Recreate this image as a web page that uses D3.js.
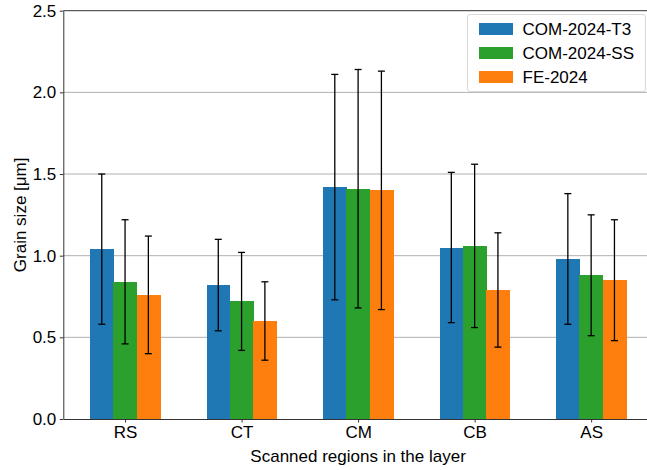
<!DOCTYPE html>
<html>
<head>
<meta charset="utf-8">
<script src="https://cdn.jsdelivr.net/npm/d3@7"></script>
<style>
  body { margin: 0; background: #fff; }
  text { font-family: "Liberation Sans", Arial, sans-serif; fill: #000; }
</style>
</head>
<body>
<div id="chart"></div>
<script>
// donnees
var regions = ["RS", "CT", "CM", "CB", "AS"];
var seriesNames = ["COM-2024-T3", "COM-2024-SS", "FE-2024"];
var seriesColors = ["#1f77b4", "#2ca02c", "#ff7f0e"];
var t3Values = [1.04, 0.82, 1.42, 1.05, 0.98];
var t3Errors = [0.46, 0.28, 0.69, 0.46, 0.40];
var ssValues = [0.84, 0.72, 1.41, 1.06, 0.88];
var ssErrors = [0.38, 0.30, 0.73, 0.50, 0.37];
var feValues = [0.76, 0.60, 1.40, 0.79, 0.85];
var feErrors = [0.36, 0.24, 0.73, 0.35, 0.37];
var yTicks = [0.0, 0.5, 1.0, 1.5, 2.0, 2.5];

var values = [t3Values, ssValues, feValues];
var errors = [t3Errors, ssErrors, feErrors];

var width = 647, height = 470;
var fontSize = "17px";
var barW = 0.2;

var svg = d3.select("#chart").append("svg")
  .attr("width", width)
  .attr("height", height);

// echelles (marge de 5% comme matplotlib)
var x = d3.scaleLinear().domain([-0.53, 4.53]).range([63.3, 652.9]);
var y = d3.scaleLinear().domain([0, 2.5]).range([419, 10.7]);

// grille horizontale
svg.append("g").selectAll("line").data(yTicks.slice(1, -1))
  .enter().append("line")
  .attr("x1", x(-0.53)).attr("x2", x(4.53))
  .attr("y1", function(d){ return y(d); })
  .attr("y2", function(d){ return y(d); })
  .attr("stroke", "#b0b0b0").attr("stroke-width", 1);

// barres
var data = [];
for (var s = 0; s < values.length; s++) {
  for (var i = 0; i < regions.length; i++) {
    data.push({ s: s, i: i, v: values[s][i], e: errors[s][i] });
  }
}

svg.append("g").attr("shape-rendering", "crispEdges").selectAll("rect").data(data)
  .enter().append("rect")
  .attr("x", function(d){ return x(d.i + (d.s - 1) * barW - barW / 2); })
  .attr("width", function(d){ return x(barW) - x(0) + 0.5; })
  .attr("y", function(d){ return y(d.v); })
  .attr("height", function(d){ return y(0) - y(d.v); })
  .attr("fill", function(d){ return seriesColors[d.s]; });

// barres d'erreur
var eb = svg.append("g").attr("stroke", "#000").attr("stroke-width", 1.3);
data.forEach(function(d){
  var cx = x(d.i + (d.s - 1) * barW);
  eb.append("line").attr("x1", cx).attr("x2", cx)
    .attr("y1", y(d.v - d.e)).attr("y2", y(d.v + d.e));
  [d.v - d.e, d.v + d.e].forEach(function(v){
    eb.append("line").attr("x1", cx - 3.5).attr("x2", cx + 3.5)
      .attr("y1", y(v)).attr("y2", y(v));
  });
});

// axes
var yAxis = svg.append("g")
  .attr("transform", "translate(" + x(-0.53) + ",0)")
  .call(d3.axisLeft(y).tickValues(yTicks).tickFormat(d3.format(".1f")).tickSizeInner(3.5).tickSizeOuter(0).tickPadding(3.5));
var xAxis = svg.append("g")
  .attr("transform", "translate(0," + y(0) + ")")
  .call(d3.axisBottom(x).tickValues(d3.range(regions.length)).tickFormat(function(d){ return regions[d]; }).tickSizeInner(3.5).tickSizeOuter(0).tickPadding(3.5));

[xAxis, yAxis].forEach(function(a){
  a.selectAll("text").style("font-size", fontSize).style("font-family", "'Liberation Sans', Arial, sans-serif");
  a.selectAll("line").attr("stroke", "#333");
  a.select(".domain").attr("stroke", "#333");
});
xAxis.selectAll("text").attr("dy", "0.71em");

// cadre du haut
svg.append("line")
  .attr("x1", x(-0.53)).attr("x2", x(4.53))
  .attr("y1", y(2.5)).attr("y2", y(2.5))
  .attr("stroke", "#333").attr("stroke-width", 1);

// titres des axes
svg.append("text")
  .attr("x", (x(-0.53) + x(4.53)) / 2).attr("y", 462)
  .attr("text-anchor", "middle")
  .style("font-size", fontSize)
  .text("Scanned regions in the layer");

svg.append("text")
  .attr("transform", "translate(26," + (y(1.25)) + ") rotate(-90)")
  .attr("text-anchor", "middle")
  .style("font-size", fontSize)
  .text("Grain size [μm]");

// legende
var legend = svg.append("g").attr("transform", "translate(467.5,14.5)");
legend.append("rect")
  .attr("width", 178).attr("height", 77)
  .attr("rx", 2.5)
  .attr("fill", "#fff").attr("fill-opacity", 0.8)
  .attr("stroke", "#d9d9d9");
seriesNames.forEach(function(name, k){
  var row = legend.append("g").attr("transform", "translate(0," + (14.5 + k * 24) + ")");
  row.append("rect").attr("x", 11.5).attr("y", -6).attr("width", 34).attr("height", 12)
    .attr("fill", seriesColors[k]);
  row.append("text").attr("x", 55).attr("y", 6)
    .style("font-size", fontSize)
    .text(name);
});
</script>
</body>
</html>
